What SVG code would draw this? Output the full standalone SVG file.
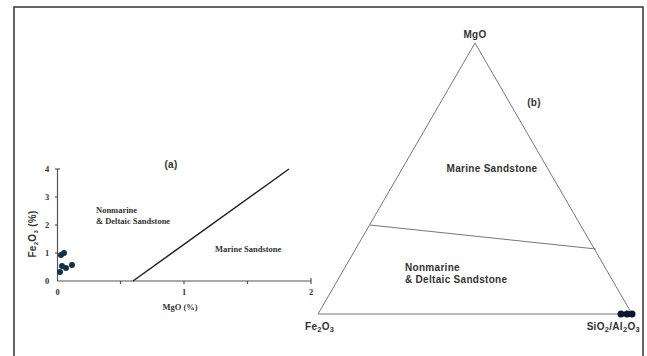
<svg xmlns="http://www.w3.org/2000/svg" width="647" height="356" viewBox="0 0 647 356">
<style>
.serif{font-family:"Liberation Serif","Times New Roman",serif;font-weight:bold;fill:#333;font-size:8.5px}
.sans{font-family:"Liberation Sans",Arial,sans-serif;font-weight:bold;fill:#333;font-size:10px;letter-spacing:0.3px}
.axis{stroke:#555;stroke-width:1.2;fill:none}
.tri{stroke:#777;stroke-width:1;fill:none}
.dotA{fill:#0f3344}
.dotB{fill:#0b1630}
</style>
<rect x="0" y="0" width="647" height="356" fill="#fff"/>
<rect id="frame" x="14" y="7" width="629" height="360" fill="none" stroke="#333" stroke-width="1.5"/>

<g id="plot-a">
  <g class="axis">
    <line x1="57.5" y1="169" x2="57.5" y2="281"/>
    <line x1="57.5" y1="281" x2="311" y2="281"/>
    <line x1="55" y1="169" x2="60" y2="169"/>
    <line x1="55" y1="197" x2="57.5" y2="197"/>
    <line x1="55" y1="225" x2="57.5" y2="225"/>
    <line x1="55" y1="253" x2="57.5" y2="253"/>
    <line x1="120.5" y1="281" x2="120.5" y2="284"/>
    <line x1="184" y1="281" x2="184" y2="284"/>
    <line x1="247.5" y1="281" x2="247.5" y2="284"/>
    <line x1="311" y1="278" x2="311" y2="284"/>
  </g>
  <g class="serif" text-anchor="middle" font-size="9">
    <text x="47" y="172">4</text>
    <text x="47" y="200">3</text>
    <text x="47" y="228">2</text>
    <text x="47" y="256">1</text>
    <text x="47" y="284">0</text>
    <text x="57.5" y="295">0</text>
    <text x="184" y="295">1</text>
    <text x="311" y="295">2</text>
    <text x="180" y="310">MgO (%)</text>
  </g>
  <text class="sans" x="171" y="168" text-anchor="middle" font-size="10" letter-spacing="0">(a)</text>
  <text class="sans" transform="translate(36 234) rotate(-90)" text-anchor="middle" font-size="8.5" letter-spacing="0">Fe<tspan dy="2" font-size="6">2</tspan><tspan dy="-2">O</tspan><tspan dy="2" font-size="6">3</tspan><tspan dy="-2"> (%)</tspan></text>
  <text class="serif" x="96" y="213">Nonmarine</text>
  <text class="serif" x="96" y="224">&amp; Deltaic Sandstone</text>
  <text class="serif" x="215" y="252">Marine Sandstone</text>
  <line x1="133" y1="281" x2="289" y2="169" stroke="#222" stroke-width="1.5"/>
  <g>
    <circle class="dotA" cx="61" cy="255" r="3"/>
    <circle class="dotA" cx="64" cy="253" r="3"/>
    <circle class="dotA" cx="62" cy="266" r="3"/>
    <circle class="dotA" cx="66" cy="268" r="3"/>
    <circle class="dotA" cx="72" cy="265" r="3"/>
    <circle class="dotA" cx="60" cy="272" r="3"/>
  </g>
</g>

<g id="plot-b">
  <polygon class="tri" points="475,43 318,314 632,314"/>
  <line class="tri" x1="370" y1="225" x2="596" y2="249"/>
  <text class="sans" x="475" y="38" text-anchor="middle">MgO</text>
  <text class="sans" x="534" y="106" text-anchor="middle" font-size="10.5">(b)</text>
  <text class="sans" x="492" y="172" text-anchor="middle">Marine Sandstone</text>
  <text class="sans" x="405" y="271">Nonmarine</text>
  <text class="sans" x="405" y="283">&amp; Deltaic Sandstone</text>
  <text class="sans" x="305" y="330">Fe<tspan dy="2" font-size="7.5">2</tspan><tspan dy="-2">O</tspan><tspan dy="2" font-size="7.5">3</tspan></text>
  <text class="sans" x="640" y="330" text-anchor="end">SiO<tspan dy="2" font-size="7.5">2</tspan><tspan dy="-2">/Al</tspan><tspan dy="2" font-size="7.5">2</tspan><tspan dy="-2">O</tspan><tspan dy="2" font-size="7.5">3</tspan></text>
  <circle class="dotB" cx="621" cy="314" r="3.5"/>
  <circle class="dotB" cx="627" cy="314" r="3.5"/>
  <circle class="dotB" cx="632" cy="314" r="3.5"/>
</g>
</svg>
